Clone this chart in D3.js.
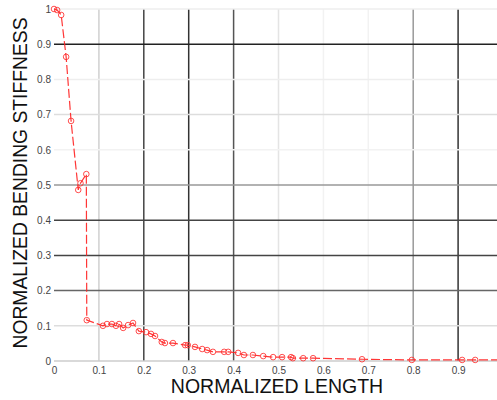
<!DOCTYPE html>
<html><head><meta charset="utf-8">
<script src="https://cdn.jsdelivr.net/npm/d3@7"></script>
<style>body{margin:0;background:#fff;}svg{display:block;}</style>
</head><body><div id="chart"></div>
<script>
const xTicks = [0,0.1,0.2,0.3,0.4,0.5,0.6,0.7,0.8,0.9];
const xTickLabels = ["0","0.1","0.2","0.3","0.4","0.5","0.6","0.7","0.8","0.9"];
const yTicks = [0,0.1,0.2,0.3,0.4,0.5,0.6,0.7,0.8,0.9,1];
const yTickLabels = ["0","0.1","0.2","0.3","0.4","0.5","0.6","0.7","0.8","0.9","1"];
const xGridShades = ["#ffffff","#d0d0d0","#444444","#333333","#555555","#e4e4e4","#f2f2f2","#f2f2f2","#999999","#333333"];
const yGridShades = ["#cccccc","#dddddd","#666666","#444444","#444444","#999999","#f2f2f2","#dddddd","#eeeeee","#222222","#eeeeee"];
const lengthVals = [0,0.007,0.016,0.027,0.038,0.054,0.059,0.072,0.073,0.109,0.118,0.129,0.138,0.145,0.154,0.165,0.176,0.189,0.205,0.216,0.225,0.24,0.247,0.265,0.292,0.298,0.314,0.33,0.341,0.354,0.379,0.388,0.41,0.423,0.443,0.466,0.488,0.508,0.528,0.532,0.555,0.577,0.686,0.797,0.909,0.938,1.0];
const stiffVals = [1.0,0.997,0.983,0.864,0.682,0.486,0.505,0.531,0.116,0.1,0.105,0.105,0.1,0.105,0.094,0.102,0.108,0.085,0.082,0.077,0.071,0.054,0.051,0.051,0.045,0.045,0.04,0.034,0.031,0.026,0.026,0.026,0.023,0.017,0.017,0.014,0.011,0.011,0.011,0.008,0.008,0.008,0.005,0.003,0.003,0.003,0.003];

const W = 497, H = 400;
const svg = d3.select("#chart").append("svg").attr("width", W).attr("height", H);
const x = d3.scaleLinear().domain([0,1]).range([54,503]);
const y = d3.scaleLinear().domain([0,1]).range([361,9]);

svg.append("g").selectAll("line").data(xTicks).join("line")
  .attr("x1", d=>x(d)).attr("x2", d=>x(d)).attr("y1", y(1)).attr("y2", y(0))
  .attr("stroke", (d,i)=>xGridShades[i]).attr("stroke-width", 1.5);
svg.append("g").selectAll("line").data(yTicks).join("line")
  .attr("x1", x(0)).attr("x2", W).attr("y1", d=>y(d)).attr("y2", d=>y(d))
  .attr("stroke", (d,i)=>yGridShades[i]).attr("stroke-width", 1.5);

const xAxis = d3.axisBottom(x).tickValues(xTicks).tickFormat((d,i)=>xTickLabels[i]).tickSize(0).tickPadding(6);
const gx = svg.append("g").attr("transform", `translate(0,${y(0)})`).call(xAxis);
gx.select(".domain").remove();
gx.selectAll("text").attr("font-family","Liberation Sans, Arial, sans-serif").attr("font-size",10).attr("fill","#444");

const yAxis = d3.axisLeft(y).tickValues(yTicks).tickFormat((d,i)=>yTickLabels[i]).tickSize(0).tickPadding(3);
const gy = svg.append("g").attr("transform", `translate(${x(0)},0)`).call(yAxis);
gy.select(".domain").remove();
gy.selectAll("text").attr("font-family","Liberation Sans, Arial, sans-serif").attr("font-size",10).attr("fill","#444");

const pts = lengthVals.map((v,i)=>[v, stiffVals[i]]);
svg.append("path").datum(pts)
  .attr("d", d3.line().x(d=>x(d[0])).y(d=>y(d[1])))
  .attr("fill","none").attr("stroke","#ff2020").attr("stroke-width",1.2)
  .attr("stroke-dasharray","9,3").attr("opacity",0.9);
svg.append("g").selectAll("circle").data(pts).join("circle")
  .attr("cx", d=>x(d[0])).attr("cy", d=>y(d[1])).attr("r", 2.8)
  .attr("fill","none").attr("stroke","#ff3030").attr("stroke-width",1).attr("opacity",0.85);

svg.append("text").attr("x", 277).attr("y", 393).attr("text-anchor","middle")
  .attr("font-family","Liberation Sans, Arial, sans-serif").attr("font-size",19.5).attr("fill","#111")
  .text("NORMALIZED LENGTH");
svg.append("text").attr("transform","translate(27,183) rotate(-90)").attr("text-anchor","middle")
  .attr("font-family","Liberation Sans, Arial, sans-serif").attr("font-size",19.3).attr("fill","#111")
  .text("NORMALIZED BENDING STIFFNESS");
</script>
</body></html>
